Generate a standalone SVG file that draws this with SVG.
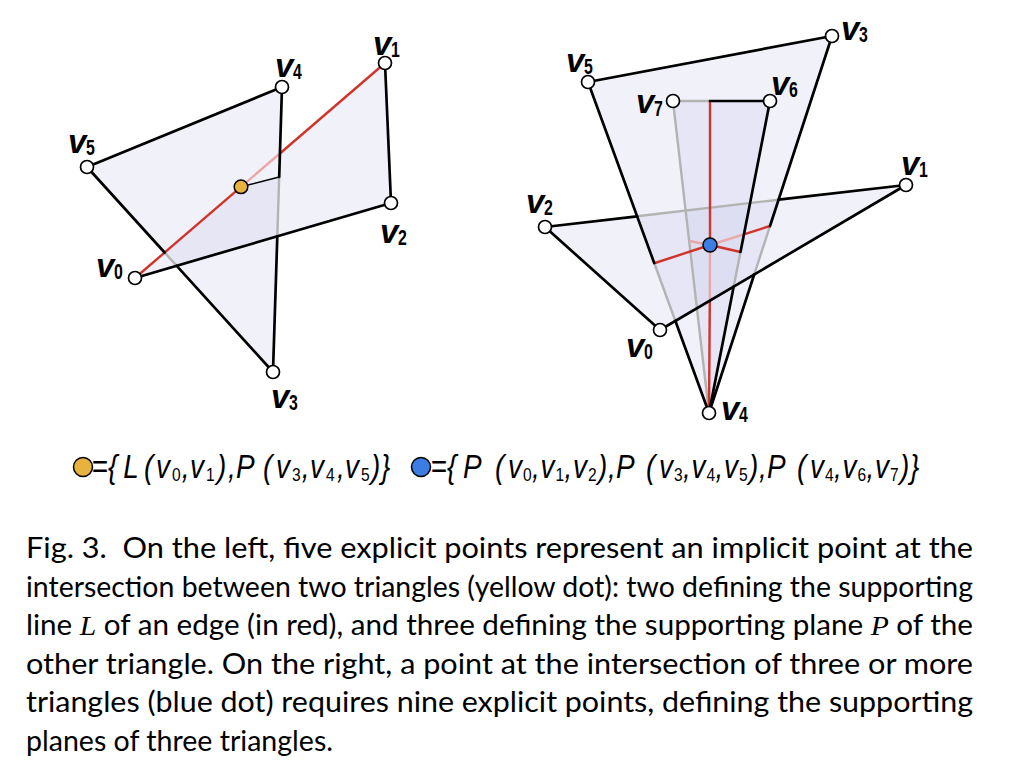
<svg xmlns="http://www.w3.org/2000/svg" width="1010" height="766" viewBox="0 0 1010 766">
<style>
.bg{fill:#fff}
.triL{fill:#f1f1fa}
.dark{fill:#e6e6f4}
.triR{fill:#c8c8eb;fill-opacity:0.25}
.e{stroke:#000;stroke-width:2.7;fill:none;stroke-linecap:round}
.thin{stroke:#000;stroke-width:1.5;fill:none}
.g{stroke:#b3b3b3;stroke-width:2.4;fill:none}
.r{stroke:#d0352b;stroke-width:2.4;fill:none}
.rf{stroke:#eba7a7;stroke-width:2.4;fill:none}
.v{fill:#fff;stroke:#000;stroke-width:1.7}
.lbl{font-family:"Liberation Sans",Arial,sans-serif;font-weight:bold;font-style:italic;font-size:33px;fill:#000}
.dg{font-family:"Liberation Sans",Arial,sans-serif;font-weight:bold;font-size:22px;fill:#000}
.leg{font-family:"Liberation Sans",Arial,sans-serif;font-style:italic;font-size:34px;fill:#000}
.ls{font-size:19px;font-style:normal}
.cap{font-family:Lato,"Open Sans",sans-serif;font-size:28px;fill:#000}
.m{font-family:"Liberation Serif","Times New Roman",serif;font-style:italic}
</style>
<rect class="bg" x="0" y="0" width="1010" height="766"/>

<!-- LEFT FIGURE -->
<g id="left-faces">
  <polygon class="triL" points="273,372 282,87 87,167"/>
  <polygon class="triL" points="135,278 385,63 391,203"/>
  <polygon class="dark" points="241,186.8 279.2,177 277.3,236.3 176.7,265.9 164.6,252.5"/>
</g>
<g id="left-connectors">
  <line class="g" x1="279.2" y1="177" x2="277.3" y2="236.3"/>
  <line class="g" x1="164.6" y1="252.5" x2="176.7" y2="265.9"/>
  <line class="r" x1="135" y1="278" x2="241" y2="186.8"/>
  <line class="rf" x1="241" y1="186.8" x2="279.9" y2="153.5"/>
  <line class="r" x1="279.9" y1="153.5" x2="385" y2="63"/>
  <line class="e" x1="87" y1="167" x2="282" y2="87"/>
  <line class="e" x1="282" y1="87" x2="279.2" y2="177"/>
  <line class="e" x1="277.3" y1="236.3" x2="273" y2="372"/>
  <line class="e" x1="87" y1="167" x2="164.6" y2="252.5"/>
  <line class="e" x1="176.7" y1="265.9" x2="273" y2="372"/>
  <line class="e" x1="385" y1="63" x2="391" y2="203"/>
  <line class="e" x1="391" y1="203" x2="135" y2="278"/>
  <line class="thin" x1="241" y1="186.8" x2="279.2" y2="177"/>
</g>
<g id="left-point"><circle cx="241" cy="186.8" r="6.8" fill="#e8b23e" stroke="#000" stroke-width="1.5"/></g>
<g id="L-v0"><circle class="v" cx="135" cy="278" r="6.5"/><text class="lbl" x="96" y="277">v</text><text class="dg" transform="translate(114,279) scale(0.72,1)">0</text></g>
<g id="L-v1"><circle class="v" cx="385" cy="63" r="6.5"/><text class="lbl" x="373" y="55">v</text><text class="dg" transform="translate(391,57) scale(0.72,1)">1</text></g>
<g id="L-v2"><circle class="v" cx="391" cy="203" r="6.5"/><text class="lbl" x="380" y="243">v</text><text class="dg" transform="translate(398,245) scale(0.72,1)">2</text></g>
<g id="L-v3"><circle class="v" cx="273" cy="372" r="6.5"/><text class="lbl" x="271" y="408">v</text><text class="dg" transform="translate(289,410) scale(0.72,1)">3</text></g>
<g id="L-v4"><circle class="v" cx="282" cy="87" r="6.5"/><text class="lbl" x="275" y="77">v</text><text class="dg" transform="translate(293,79) scale(0.72,1)">4</text></g>
<g id="L-v5"><circle class="v" cx="87" cy="167" r="6.5"/><text class="lbl" x="68" y="153">v</text><text class="dg" transform="translate(86,155) scale(0.72,1)">5</text></g>

<!-- RIGHT FIGURE -->
<g id="right-faces">
  <polygon class="triR" points="832,36 709,413 588,82"/>
  <polygon class="triR" points="660,330 906,185 545,227"/>
  <polygon class="triR" points="709,413 770,101 673,101"/>
</g>
<g id="right-connectors">
  <line class="g" x1="770" y1="226" x2="754.2" y2="274.5"/>
  <line class="g" x1="654.2" y1="263" x2="675.4" y2="321"/>
  <line class="g" x1="673" y1="101" x2="710" y2="101"/>
  <line class="g" x1="740.5" y1="252" x2="733.7" y2="286.5"/>
  <line class="g" x1="673" y1="101" x2="709" y2="413"/>
  <line class="g" x1="637.1" y1="216.3" x2="778.6" y2="199.7"/>
  <line class="r" x1="710" y1="101" x2="710" y2="245"/>
  <line class="rf" x1="710" y1="245" x2="709.8" y2="300.5"/>
  <line class="r" x1="709.8" y1="300.5" x2="709" y2="413"/>
  <line class="r" x1="655" y1="263" x2="710" y2="245"/>
  <line class="rf" x1="710" y1="245" x2="743.8" y2="234.4"/>
  <line class="r" x1="743.8" y1="234.4" x2="770" y2="226"/>
  <line class="rf" x1="689.2" y1="241" x2="710" y2="245"/>
  <line class="r" x1="710" y1="245" x2="740.5" y2="252"/>
  <line class="e" x1="588" y1="82" x2="832" y2="36"/>
  <line class="e" x1="832" y1="36" x2="770" y2="226"/>
  <line class="e" x1="754.2" y1="274.5" x2="709" y2="413"/>
  <line class="e" x1="588" y1="82" x2="654.2" y2="263"/>
  <line class="e" x1="675.4" y1="321" x2="709" y2="413"/>
  <line class="e" x1="710" y1="101" x2="770" y2="101"/>
  <line class="e" x1="770" y1="101" x2="740.5" y2="252"/>
  <line class="e" x1="733.7" y1="286.5" x2="709" y2="413"/>
  <line class="e" x1="545" y1="227" x2="637.1" y2="216.3"/>
  <line class="e" x1="778.6" y1="199.7" x2="906" y2="185"/>
  <line class="e" x1="545" y1="227" x2="660" y2="330"/>
  <line class="e" x1="660" y1="330" x2="906" y2="185"/>
</g>
<g id="right-point"><circle cx="710" cy="245" r="7" fill="#3b7de3" stroke="#000" stroke-width="1.5"/></g>
<g id="R-v0"><circle class="v" cx="660" cy="330" r="6.5"/><text class="lbl" x="626" y="357">v</text><text class="dg" transform="translate(644,359) scale(0.72,1)">0</text></g>
<g id="R-v1"><circle class="v" cx="906" cy="185" r="6.5"/><text class="lbl" x="901" y="175">v</text><text class="dg" transform="translate(919,177) scale(0.72,1)">1</text></g>
<g id="R-v2"><circle class="v" cx="545" cy="227" r="6.5"/><text class="lbl" x="526" y="213">v</text><text class="dg" transform="translate(544,215) scale(0.72,1)">2</text></g>
<g id="R-v3"><circle class="v" cx="832" cy="36" r="6.5"/><text class="lbl" x="841" y="40">v</text><text class="dg" transform="translate(859,42) scale(0.72,1)">3</text></g>
<g id="R-v4"><circle class="v" cx="709" cy="413" r="6.5"/><text class="lbl" x="721" y="420">v</text><text class="dg" transform="translate(739,422) scale(0.72,1)">4</text></g>
<g id="R-v5"><circle class="v" cx="588" cy="82" r="6.5"/><text class="lbl" x="566" y="72">v</text><text class="dg" transform="translate(584,74) scale(0.72,1)">5</text></g>
<g id="R-v6"><circle class="v" cx="770" cy="101" r="6.5"/><text class="lbl" x="771" y="95">v</text><text class="dg" transform="translate(789,97) scale(0.72,1)">6</text></g>
<g id="R-v7"><circle class="v" cx="673" cy="101" r="6.5"/><text class="lbl" x="636" y="113">v</text><text class="dg" transform="translate(654,116) scale(0.72,1)">7</text></g>

<!-- LEGEND -->
<g id="legend-yellow">
  <circle cx="83" cy="467" r="9.5" fill="#e8b23e" stroke="#000" stroke-width="1.5"/>
  <text class="leg" y="478" transform="scale(0.82,1)"><tspan x="111.6">=</tspan><tspan x="131.7">{</tspan><tspan x="150.4">L</tspan><tspan x="175.6">(</tspan><tspan x="190.2">v</tspan><tspan class="ls" x="209.8" y="481">0</tspan><tspan x="221.7" y="478">,</tspan><tspan x="231.7">v</tspan><tspan class="ls" x="251.2" y="481">1</tspan><tspan x="264.6" y="478">)</tspan><tspan x="278">,</tspan><tspan x="287.8">P</tspan><tspan x="320.7">(</tspan><tspan x="336.6">v</tspan><tspan class="ls" x="356.1" y="481">3</tspan><tspan x="368" y="478">,</tspan><tspan x="378">v</tspan><tspan class="ls" x="397.6" y="481">4</tspan><tspan x="410.9" y="478">,</tspan><tspan x="420.7">v</tspan><tspan class="ls" x="440.2" y="481">5</tspan><tspan x="452.4" y="478">)</tspan><tspan x="464.6">}</tspan></text>
</g>
<g id="legend-blue">
  <circle cx="421" cy="467" r="9.5" fill="#3b7de3" stroke="#000" stroke-width="1.5"/>
  <text class="leg" y="478" transform="scale(0.82,1)"><tspan x="525">=</tspan><tspan x="545.1">{</tspan><tspan x="564.6">P</tspan><tspan x="603.7">(</tspan><tspan x="619.5">v</tspan><tspan class="ls" x="637.8" y="481">0</tspan><tspan x="648.8" y="478">,</tspan><tspan x="659.1">v</tspan><tspan class="ls" x="677.4" y="481">1</tspan><tspan x="688.4" y="478">,</tspan><tspan x="698.8">v</tspan><tspan class="ls" x="717.1" y="481">2</tspan><tspan x="729.3" y="478">)</tspan><tspan x="741.5">,</tspan><tspan x="751.2">P</tspan><tspan x="787.8">(</tspan><tspan x="803.7">v</tspan><tspan class="ls" x="822" y="481">3</tspan><tspan x="832.9" y="478">,</tspan><tspan x="843.3">v</tspan><tspan class="ls" x="861.6" y="481">4</tspan><tspan x="872.6" y="478">,</tspan><tspan x="882.9">v</tspan><tspan class="ls" x="901.2" y="481">5</tspan><tspan x="913.4" y="478">)</tspan><tspan x="925.6">,</tspan><tspan x="935.4">P</tspan><tspan x="972">(</tspan><tspan x="987.8">v</tspan><tspan class="ls" x="1006.1" y="481">4</tspan><tspan x="1017.1" y="478">,</tspan><tspan x="1027.4">v</tspan><tspan class="ls" x="1045.7" y="481">6</tspan><tspan x="1056.7" y="478">,</tspan><tspan x="1067.1">v</tspan><tspan class="ls" x="1085.4" y="481">7</tspan><tspan x="1097.6" y="478">)</tspan><tspan x="1109.8">}</tspan></text>
</g>

<!-- CAPTION -->
<g id="caption">
  <text class="cap" x="26" y="558" textLength="947" lengthAdjust="spacingAndGlyphs">Fig. 3.&#160; On the left, five explicit points represent an implicit point at the</text>
  <text class="cap" x="26" y="597" textLength="947" lengthAdjust="spacingAndGlyphs">intersection between two triangles (yellow dot): two defining the supporting</text>
  <text class="cap" x="26" y="635" textLength="947" lengthAdjust="spacingAndGlyphs">line <tspan class="m">L</tspan> of an edge (in red), and three defining the supporting plane <tspan class="m">P</tspan> of the</text>
  <text class="cap" x="26" y="674" textLength="947" lengthAdjust="spacingAndGlyphs">other triangle. On the right, a point at the intersection of three or more</text>
  <text class="cap" x="26" y="712" textLength="947" lengthAdjust="spacingAndGlyphs">triangles (blue dot) requires nine explicit points, defining the supporting</text>
  <text class="cap" x="26" y="751" textLength="307" lengthAdjust="spacingAndGlyphs">planes of three triangles.</text>
</g>
</svg>
